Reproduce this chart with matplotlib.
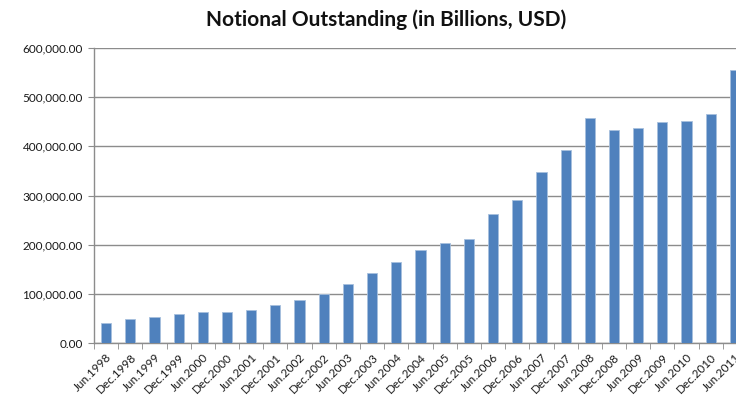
import numpy as np
import matplotlib.pyplot as plt
from matplotlib.ticker import FuncFormatter, FixedLocator

# Data (billions USD)
periods = ['Jun.1998', 'Dec.1998', 'Jun.1999', 'Dec.1999', 'Jun.2000', 'Dec.2000',
           'Jun.2001', 'Dec.2001', 'Jun.2002', 'Dec.2002', 'Jun.2003', 'Dec.2003',
           'Jun.2004', 'Dec.2004', 'Jun.2005', 'Dec.2005', 'Jun.2006', 'Dec.2006',
           'Jun.2007', 'Dec.2007', 'Jun.2008', 'Dec.2008', 'Jun.2009', 'Dec.2009',
           'Jun.2010', 'Dec.2010', 'Jun.2011']
notional = [41400, 49600, 53700, 59200, 63300, 63300, 67300, 77600, 88400, 100000,
            120400, 142000, 163900, 189800, 204000, 211400, 263000, 290400,
            347000, 393000, 458000, 432600, 436700, 450000, 452000, 466500, 555000]
yticks = [0, 100000, 200000, 300000, 400000, 500000, 600000]

plt.rcParams['font.family'] = ['Lato', 'DejaVu Sans']

fig = plt.figure(figsize=(7.36, 3.95), dpi=100)
# plot area runs past the right edge, like the cropped original
ax = fig.add_axes([94 / 736, 52 / 395, 653 / 736, 295 / 395])

x = np.arange(len(periods))
ax.bar(x, notional, width=0.42, color='#4f81bd', edgecolor='#a7c0de',
       linewidth=0.6, zorder=3)

ax.set_xlim(-0.5, len(periods) - 0.5)
ax.set_ylim(0, 600000)
ax.set_yticks(yticks)
ax.yaxis.set_major_formatter(FuncFormatter(lambda v, p: f'{v:,.2f}'))
ax.grid(axis='y', color='#8c8c8c', linewidth=1.0, zorder=0)

ax.set_xticks(x)
ax.set_xticklabels(periods, rotation=45, ha='right', rotation_mode='anchor',
                   fontsize=8.5, color='#1a1a1a')
ax.xaxis.set_minor_locator(FixedLocator(np.arange(len(periods) + 1) - 0.5))
ax.tick_params(axis='x', which='major', length=0, pad=6)
ax.tick_params(axis='x', which='minor', length=4, color='#8c8c8c', direction='out')
ax.tick_params(axis='y', length=4, color='#8c8c8c', labelsize=8.5,
               labelcolor='#1a1a1a', pad=4)

for side in ['top', 'right']:
    ax.spines[side].set_visible(False)
for side in ['left', 'bottom']:
    ax.spines[side].set_color('#8c8c8c')
    ax.spines[side].set_linewidth(1.0)

fig.text(386 / 736, 1 - 20 / 395, 'Notional Outstanding (in Billions, USD)',
         ha='center', va='center', fontsize=15, fontweight='bold', color='#111111')

fig.savefig('out.png', dpi=100)
